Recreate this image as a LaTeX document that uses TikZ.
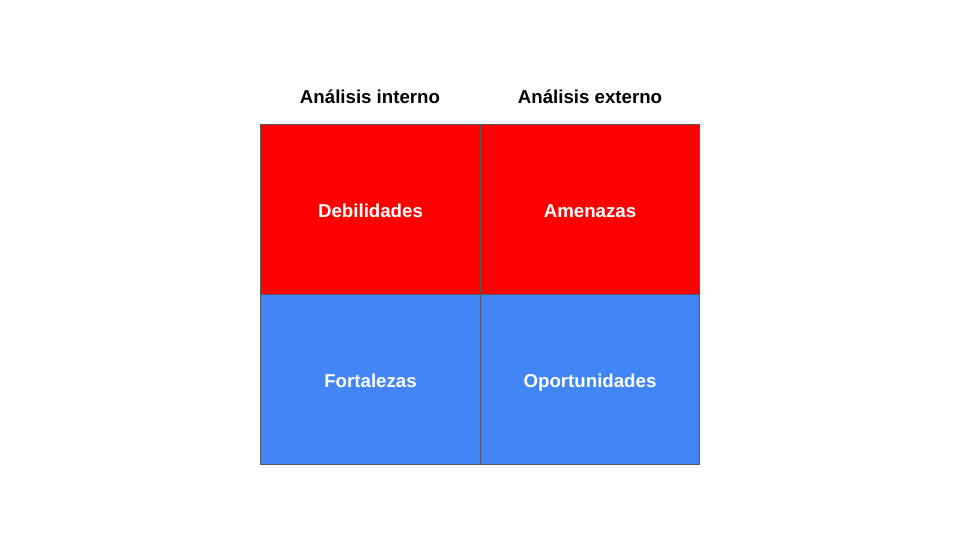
\documentclass[tikz,border=0pt]{standalone}
\usepackage{fontspec}
\setmainfont{Liberation Sans}
\definecolor{swred}{HTML}{FF0000}
\definecolor{swblue}{HTML}{4285F4}
\definecolor{swline}{HTML}{595959}
\begin{document}
\begin{tikzpicture}[x=0.75pt,y=-0.75pt,
  cell/.style={draw=swline,line width=0.75pt,minimum width=220*0.75pt,minimum height=170*0.75pt,inner sep=0pt,text height=12pt,text depth=0pt,anchor=north west,text=white,font=\fontsize{14pt}{16pt}\selectfont\bfseries},
  head/.style={font=\fontsize{14pt}{16pt}\selectfont\bfseries,text=black,inner sep=0pt}]
\useasboundingbox (0,0) rectangle (960,540);
\node[cell,fill=swred] (deb) at (260,123.5) {Debilidades};
\node[cell,fill=swred,minimum width=219*0.75pt] (ame) at (480,123.5) {Amenazas};
\node[cell,fill=swblue] (fort) at (260,294) {Fortalezas};
\node[cell,fill=swblue,minimum width=219*0.75pt] (opo) at (480,294) {Oportunidades};
\node[head] (hi) at (370,96.5) {Análisis interno};
\node[head] (he) at (590,96.5) {Análisis externo};
\end{tikzpicture}
\end{document}
